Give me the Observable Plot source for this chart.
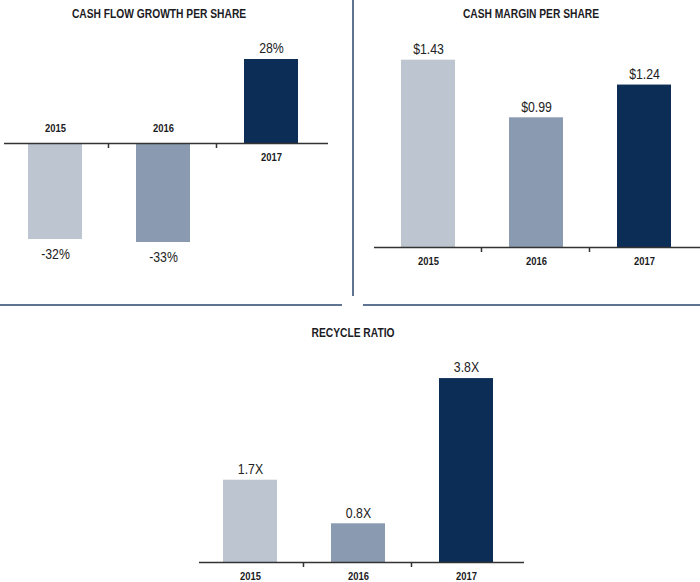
<!DOCTYPE html>
<html><head><meta charset="utf-8">
<script src="https://cdn.jsdelivr.net/npm/d3@7"></script>
<script src="https://cdn.jsdelivr.net/npm/@observablehq/plot@0.6"></script>
<style>
body{margin:0;background:#fff;}
#wrap{position:relative;width:700px;height:582px;overflow:hidden;font-family:"Liberation Sans",Arial,sans-serif;}
.panel{position:absolute;}
.title{position:absolute;font-weight:bold;font-size:12.5px;color:#1b1b24;transform:translate(-50%,-50%) scaleX(0.82);white-space:nowrap;}
.divider{position:absolute;background:#5f7393;}
</style></head><body><div id="wrap"></div>
<script>
const years = ["2015", "2016", "2017"];
const cashFlowGrowth = [-32, -33, 28];
const cashMargin = [1.43, 0.99, 1.24];
const recycleRatio = [1.7, 0.8, 3.8];
const titles = ["CASH FLOW GROWTH PER SHARE", "CASH MARGIN PER SHARE", "RECYCLE RATIO"];
const shades = ["#bdc5d1", "#8a9bb1", "#0b2d56"];

const FONT = '"Liberation Sans",Arial,sans-serif';
const NARROW = 0.82;

function narrow(svg) {
  svg.querySelectorAll("text").forEach(t => {
    const tr = t.getAttribute("transform");
    if (tr) t.setAttribute("transform", tr + ` scale(${NARROW},1)`);
    else {
      const x = +(t.getAttribute("x") || 0);
      t.setAttribute("transform", `translate(${x},0) scale(${NARROW},1) translate(${-x},0)`);
    }
  });
  return svg;
}

function panel(values, fmt, o) {
  const data = years.map((year, i) => ({year, value: values[i], label: fmt(values[i])}));
  const pos = data.filter(d => d.value >= 0);
  const neg = data.filter(d => d.value < 0);
  const step = (o.xr[1] - o.xr[0]) / 2.9;
  return narrow(Plot.plot({
    width: o.width, height: o.height,
    marginLeft: o.ml, marginRight: o.mr, marginTop: 0, marginBottom: 0,
    x: {domain: years, range: o.xr, paddingInner: 0.5, paddingOuter: 0.2, axis: null},
    y: {domain: o.yd, range: o.yr, axis: null},
    color: {domain: years, range: shades},
    style: {fontFamily: FONT, background: "transparent", overflow: "visible"},
    marks: [
      Plot.barY(data, {x: "year", y: "value", fill: "year"}),
      Plot.ruleY([0], {stroke: "#333", strokeWidth: 1.5}),
      Plot.ruleX(years.slice(0, -1), {x: d => d, y1: d => 0, y2: d => 0, dx: step / 2 - 1.5, insetBottom: -5, stroke: "#333", strokeWidth: 1.5}),
      Plot.text(pos, {x: "year", y: "value", text: "label", dy: -11, fontSize: 15, fill: "#222"}),
      Plot.text(neg, {x: "year", y: "value", text: "label", dy: 15, fontSize: 15, fill: "#222"}),
      Plot.text(pos, {x: "year", y: d => 0, text: "year", dy: 14, fontSize: 11.5, fontWeight: "bold", fill: "#1b1b24"}),
      Plot.text(neg, {x: "year", y: d => 0, text: "year", dy: -15, fontSize: 11.5, fontWeight: "bold", fill: "#1b1b24"})
    ]
  }));
}

const wrap = document.getElementById("wrap");
function place(el, left, top) {
  const d = document.createElement("div");
  d.className = "panel";
  d.style.left = left + "px"; d.style.top = top + "px";
  d.appendChild(el);
  wrap.appendChild(d);
}
function title(text, cx, cy) {
  const t = document.createElement("div");
  t.className = "title"; t.textContent = text;
  t.style.left = cx + "px"; t.style.top = cy + "px";
  wrap.appendChild(t);
}
function divider(l, t, w, h) {
  const d = document.createElement("div");
  d.className = "divider";
  Object.assign(d.style, {left: l + "px", top: t + "px", width: w + "px", height: h + "px"});
  wrap.appendChild(d);
}

place(panel(cashFlowGrowth, v => `${v}%`, {
  width: 350, height: 300, ml: 4, mr: 22,
  xr: [4.5, 320.5], yd: [-40, 40], yr: [263, 23]
}), 0, 0);

place(panel(cashMargin, d3.format("$.2f"), {
  width: 350, height: 300, ml: 24, mr: 0,
  xr: [27.5, 343.5], yd: [0, 1.8], yr: [247, 247 - 1.8 * 131]
}), 350, 0);

place(panel(recycleRatio, v => v.toFixed(1) + "X", {
  width: 700, height: 272, ml: 199, mr: 176,
  xr: [199.5, 515.5], yd: [0, 5], yr: [252, 252 - 5 * 48.4]
}), 0, 310);

title(titles[0], 158.5, 14);
title(titles[1], 531, 14);
title(titles[2], 353, 333);

divider(352, 0, 2, 296);
divider(0, 304, 342, 2);
divider(363, 304, 337, 2);
</script></body></html>
